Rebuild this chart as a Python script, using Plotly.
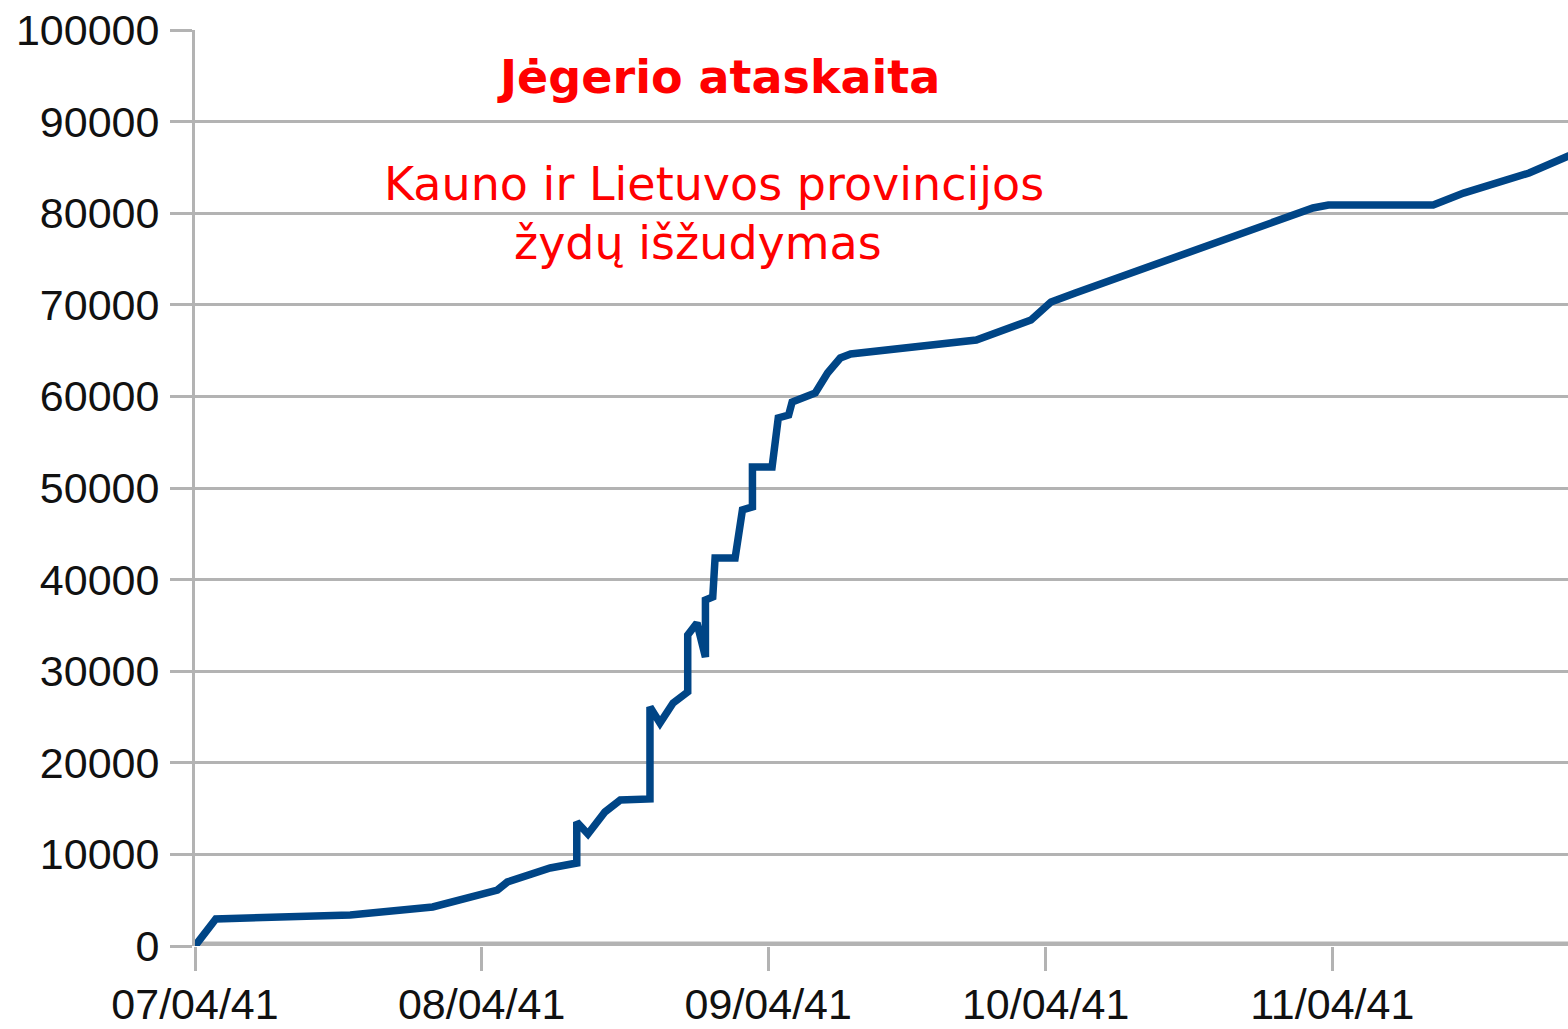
import plotly.graph_objects as go

# Cumulative number of murdered (Jäger report, Kaunas and Lithuanian provinces)
dates = [
    "1941-07-04 00:00", "1941-07-06 06:00", "1941-07-20 19:00", "1941-07-29 17:00",
    "1941-08-05 17:00", "1941-08-06 19:00", "1941-08-11 10:00", "1941-08-14 07:00",
    "1941-08-14 07:00", "1941-08-15 12:00", "1941-08-17 08:00", "1941-08-19 00:00",
    "1941-08-22 05:00", "1941-08-22 05:00", "1941-08-23 07:00", "1941-08-24 17:00",
    "1941-08-26 07:00", "1941-08-26 07:00", "1941-08-27 07:00", "1941-08-28 05:00",
    "1941-08-28 05:00", "1941-08-29 00:00", "1941-08-29 06:00", "1941-08-31 10:00",
    "1941-09-01 05:00", "1941-09-02 07:00", "1941-09-02 07:00", "1941-09-04 10:00",
    "1941-09-05 02:00", "1941-09-06 05:00", "1941-09-06 14:00", "1941-09-09 02:00",
    "1941-09-10 10:00", "1941-09-11 19:00", "1941-09-12 22:00", "1941-09-26 12:00",
    "1941-10-02 10:00", "1941-10-04 14:00", "1941-10-07 05:00", "1941-11-01 22:00",
    "1941-11-03 14:00", "1941-11-14 22:00", "1941-11-18 05:00", "1941-11-25 07:00",
    "1941-11-29 07:00", "1941-12-02 00:00",
]
killed = [
    0, 2950, 3380, 4260,
    6110, 6990, 8520, 9060,
    13540, 12230, 14630, 15940,
    16050, 26090, 24340, 26530,
    27730, 33950, 35260, 31550,
    37770, 38100, 42360, 42360,
    47600, 47930, 52290, 52290,
    57640, 57970, 59390, 60370,
    62550, 64190, 64630, 66160,
    68340, 70310, 71290, 80570,
    80900, 80900, 82200, 84390,
    86140, 87300,
]

x_ticks = ["1941-07-04", "1941-08-04", "1941-09-04", "1941-10-04", "1941-11-04"]
x_tick_labels = ["07/04/41", "08/04/41", "09/04/41", "10/04/41", "11/04/41"]
y_ticks = [0, 10000, 20000, 30000, 40000, 50000, 60000, 70000, 80000, 90000, 100000]

title_text = "Jėgerio ataskaita"
subtitle_line1 = "Kauno ir Lietuvos provincijos"
subtitle_line2 = "žydų išžudymas"

fig = go.Figure()
fig.add_trace(go.Scatter(
    x=dates, y=killed, mode="lines",
    line=dict(color="#004586", width=7.5),
    hoverinfo="skip", showlegend=False,
))

grid = "#b3b3b3"
tick_font = dict(family="Liberation Sans, Arial, sans-serif", size=43, color="#111111")
red_font = dict(family="DejaVu Sans", size=46, color="#ff0000")

fig.update_layout(
    width=1568, height=1029,
    margin=dict(l=195, r=0, t=30, b=83, pad=0),
    paper_bgcolor="white", plot_bgcolor="white",
    xaxis=dict(
        type="date", automargin=False,
        range=["1941-07-04 00:00", "1941-11-29 12:00"],
        tickvals=x_ticks, ticktext=x_tick_labels,
        ticks="outside", ticklen=24, tickwidth=3, tickcolor=grid,
        tickfont=tick_font, ticklabelstandoff=-4,
        showgrid=False, zeroline=False, showline=False,
    ),
    yaxis=dict(
        automargin=False,
        range=[0, 100000],
        tickvals=y_ticks, ticktext=[str(v) for v in y_ticks],
        ticks="outside", ticklen=22, tickwidth=3, tickcolor=grid,
        tickfont=tick_font, ticklabelstandoff=2,
        showgrid=True, gridcolor=grid, gridwidth=3,
        zeroline=False, showline=True, linecolor=grid, linewidth=3,
    ),
    shapes=[dict(type="line", xref="paper", yref="y", x0=0, x1=1, y0=0, y1=0,
                 line=dict(color=grid, width=9), layer="below")],
    annotations=[
        dict(text="<b>" + title_text + "</b>", xref="paper", yref="paper",
             x=0.381, y=0.949, xanchor="center", yanchor="middle", showarrow=False,
             font=red_font),
        dict(text=subtitle_line1, xref="paper", yref="paper",
             x=0.378, y=0.832, xanchor="center", yanchor="middle", showarrow=False,
             font=red_font),
        dict(text=subtitle_line2, xref="paper", yref="paper",
             x=0.366, y=0.768, xanchor="center", yanchor="middle", showarrow=False,
             font=red_font),
    ],
)

fig.write_html("out.html", config={"displayModeBar": False},
               post_script="document.body.style.margin='0';")
